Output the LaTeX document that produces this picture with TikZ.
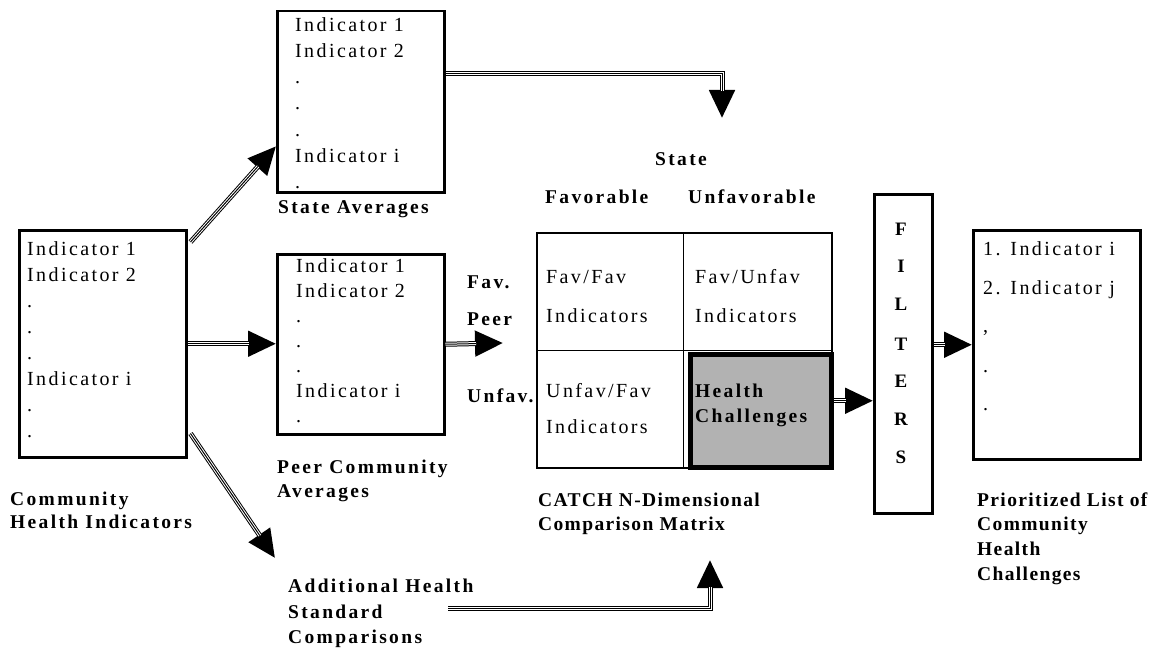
\documentclass[tikz,border=0pt]{standalone}
\usepackage{fontspec}
\setmainfont{Liberation Serif}
\newfontfamily\rgfont{Liberation Serif}[LetterSpace=12]
\newfontfamily\bdfont{Liberation Serif}[LetterSpace=12]
\newfontfamily\bdtight{Liberation Serif}[LetterSpace=7]
\usetikzlibrary{arrows.meta,calc}
\tikzset{
  txt/.style={anchor=base west, inner sep=0pt, font=\rgfont\fontsize{20}{26}\selectfont},
  btxt/.style={anchor=base west, inner sep=0pt, font=\bdfont\bfseries\fontsize{19.5}{24}\selectfont},
  btight/.style={anchor=base west, inner sep=0pt, font=\bdtight\bfseries\fontsize{19.5}{24}\selectfont},
  fbox/.style={draw, line width=2.5pt, anchor=north west, inner sep=0pt},
  arrouter/.style={line width=5pt, -{Triangle[length=28pt,width=25pt]}},
  arrwhite/.style={white, line width=3pt, shorten >=27pt},
  arrcore/.style={line width=1pt, shorten >=27pt},
}
\newcommand\triarrow[1]{\draw[arrouter] #1; \draw[arrwhite] #1; \draw[arrcore] #1;}
\begin{document}
\begin{tikzpicture}[x=1pt,y=-1pt]
\useasboundingbox (0,0) rectangle (1159,650);
% boxes
\node[fbox, minimum width=167pt, minimum height=227pt] (com) at (18,229) {};
\node[fbox, minimum width=167pt, minimum height=181pt] (state) at (276,10) {};
\node[fbox, minimum width=167pt, minimum height=180pt] (peer) at (276,253) {};
\node[draw, line width=2pt, anchor=north west, inner sep=0pt, minimum width=295pt, minimum height=235pt] (mat) at (536,232) {};
\draw[line width=1pt] (mat.north) ++(-1.5,0) -- ++(0,235);
\draw[line width=1pt] (mat.west) -- (mat.east);
\node[draw, line width=4.5pt, fill=black!30, anchor=north west, inner sep=0pt, minimum width=141pt, minimum height=113pt] (hc) at (688,352) {};
\node[fbox, minimum width=58pt, minimum height=319pt] (fil) at (873,193) {};
\node[fbox, minimum width=167pt, minimum height=229pt] (pri) at (972,229) {};
% community box text
\node[txt] (c1) at (27,255) {Indicator 1};
\node[txt] (c2) at (27,281) {Indicator 2};
\node[txt] (c3) at (27,307) {.};
\node[txt] (c4) at (27,333) {.};
\node[txt] (c5) at (27,359) {.};
\node[txt] (c6) at (27,385) {Indicator i};
\node[txt] (c7) at (27,411) {.};
\node[txt] (c8) at (27,437) {.};
% state box text
\node[txt] (s1) at (295,32) {Indicator 1};
\node[txt] (s2) at (295,58) {Indicator 2};
\node[txt] (s3) at (295,84) {.};
\node[txt] (s4) at (295,110) {.};
\node[txt] (s5) at (295,136) {.};
\node[txt] (s6) at (295,162) {Indicator i};
\node[txt] (s7) at (295,188) {.};
% peer box text
\node[txt] (p1) at (296,272) {Indicator 1};
\node[txt] (p2) at (296,297) {Indicator 2};
\node[txt] (p3) at (296,322) {.};
\node[txt] (p4) at (296,347) {.};
\node[txt] (p5) at (296,372) {.};
\node[txt] (p6) at (296,397) {Indicator i};
\node[txt] (p7) at (296,422) {.};
% matrix text
\node[txt] (m1) at (546,283) {Fav/Fav};
\node[txt] (m2) at (546,322) {Indicators};
\node[txt] (m3) at (695,283) {Fav/Unfav};
\node[txt] (m4) at (695,322) {Indicators};
\node[txt] (m5) at (546,397) {Unfav/Fav};
\node[txt] (m6) at (546,433) {Indicators};
\node[btxt] (m7) at (695,397) {Health};
\node[btxt] (m8) at (695,422) {Challenges};
% filters
\foreach \l/\yy [count=\i] in {F/235,I/272,L/310,T/350,E/387,R/425,S/463}
  \node[anchor=base, inner sep=0pt, font=\bfseries\fontsize{19}{24}\selectfont] (f\i) at (901,\yy) {\l};
% prioritized
\node[txt] (r1) at (983,255) {1. Indicator i};
\node[txt] (r2) at (983,294) {2. Indicator j};
\node[txt] (r3) at (983,332) {,};
\node[txt] (r4) at (983,372) {.};
\node[txt] (r5) at (983,410) {.};
% labels
\node[btxt] (lsa) at (278,213) {State Averages};
\node[btxt] (lst) at (655,165) {State};
\node[btxt] (lfa) at (545,203) {Favorable};
\node[btxt] (lun) at (688,203) {Unfavorable};
\node[btxt] (lfv) at (467,288) {Fav.};
\node[btxt] (lpe) at (467,325) {Peer};
\node[btxt] (luf) at (467,402) {Unfav.};
\node[btxt] (lpc1) at (277,473) {Peer Community};
\node[btxt] (lpc2) at (277,497) {Averages};
\node[btxt] (lch1) at (10,505) {Community};
\node[btxt] (lch2) at (10,528) {Health Indicators};
\node[btxt] (lad1) at (288,592) {Additional Health};
\node[btxt] (lad2) at (288,618) {Standard};
\node[btxt] (lad3) at (288,643) {Comparisons};
\node[btight] (lca1) at (538,506) {CATCH N-Dimensional};
\node[btight] (lca2) at (538,530) {Comparison Matrix};
\node[btight] (lpr1) at (977,506) {Prioritized List of};
\node[btight] (lpr2) at (977,530) {Community};
\node[btight] (lpr3) at (977,555) {Health};
\node[btight] (lpr4) at (977,580) {Challenges};
% free arrow ends
\coordinate (stip) at (722,118);
\coordinate (ptip) at (503,343);
\coordinate (addtip) at (275,558);
\coordinate (atail) at (448,608);
\coordinate (atip) at (710,560);
% arrows
\triarrow{([xshift=3pt,yshift=-13pt]com.north east) -- ([yshift=-44.5pt]state.west)}
\triarrow{(com.east) -- (com.east -| peer.west)}
\triarrow{([xshift=3pt,yshift=25pt]com.south east) -- (addtip)}
\triarrow{([yshift=28.5pt]state.east) -| (stip)}
\triarrow{(peer.east) -- (ptip)}
\triarrow{(atail) -| (atip)}
\triarrow{([yshift=10pt]hc.east) -- ([yshift=10pt]hc.east -| fil.west)}
\triarrow{(fil.east |- pri.west) -- (pri.west)}
\end{tikzpicture}
\end{document}
